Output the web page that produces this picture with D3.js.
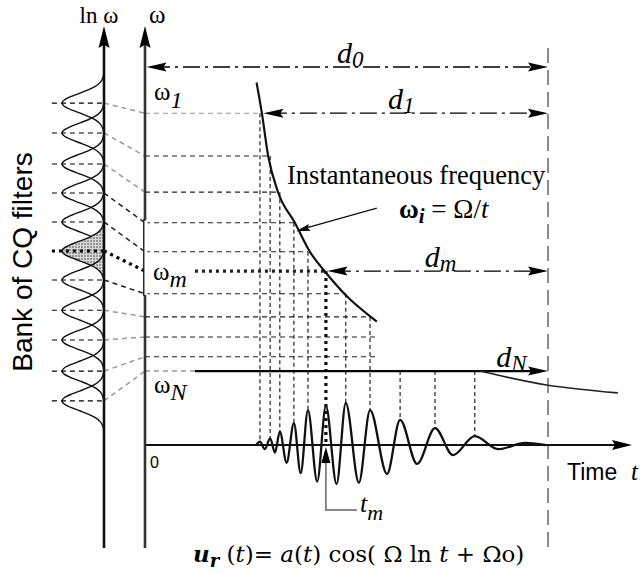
<!DOCTYPE html>
<html><head><meta charset="utf-8">
<script src="https://cdn.jsdelivr.net/npm/d3@7"></script>
<style>body{margin:0;background:#fff}</style>
</head><body>
<svg id="c" width="643" height="574"></svg>
<script>
// ---------- data ----------
const filterCenters = [81.4, 74.3, 66.9, 60.0, 53.1, 46.2, 39.3, 32.1, 25.0, 17.6, 10.5]; // ln ω units
const bankOmegas   = [79.0, 68.8, 60.2, 52.9, 46.0, 41.4, 36.0, 30.5, 25.7, 21.0, 17.6]; // ω units
const peakTimes    = [23.7, 25.8, 27.8, 30.7, 33.6, 37.3, 41.4, 46.4, 52.6, 59.8, 68.0];
const peakAmps     = [0.08, 0.16, 0.32, 0.52, 0.83, 0.93, 1.0, 0.83, 0.6, 0.40, 0.21];
const slantColors  = ["#999","#999","#999","#222","#222","#000","#222","#999","#999","#999","#999"];
const mIndex = 5;
const filterProfileOffset = [-7.5, -6, -5, -4, -3.2, -2.4, -1.6, -0.8, 0, 0.8, 1.6, 2.4, 3.2, 4, 5, 6, 7.5];
const filterProfileGain   = [0, 0.029, 0.085, 0.206, 0.364, 0.566, 0.777, 0.939, 1, 0.939, 0.777, 0.566, 0.364, 0.206, 0.085, 0.029, 0];
const curveT = [23.0, 24.1, 25.4, 27.4, 30.9, 34.0, 37.1, 41.2, 47.8];
const curveW = [86.3, 79.0, 68.8, 60.3, 52.9, 46.0, 41.3, 35.9, 29.4];
const tailT = [69.1, 82.8, 97.5];
const tailW = [17.6, 14.3, 12.4];
const waveT = [22.9, 23.7, 24.7, 25.8, 26.8, 27.8, 29.2, 30.7, 32.1, 33.6, 35.5, 37.3, 39.5, 41.4, 44.1, 46.4, 49.9, 52.6, 56.1, 59.8, 63.5, 68.0, 72.8, 78.4, 82.5];
const waveA = [0, 0.08, -0.1, 0.16, -0.18, 0.32, -0.42, 0.52, -0.67, 0.83, -0.87, 0.93, -0.93, 1.0, -0.9, 0.83, -0.69, 0.6, -0.45, 0.40, -0.24, 0.21, -0.1, 0.05, 0];
const dNames  = ["0", "1", "m", "N"];
const dOmega  = [90.0, 79.0, 41.4, 17.6];
const dStart  = [0, 24.1, 37.3, 10.3];
const dLabelT = [39.6, 50.1, 57.7, 72.4];
const dEnd = 83.1;
const curveEndT = 47.8;

// ---------- scales ----------
const x  = d3.scaleLinear().domain([0, 100]).range([145, 630]);
const yW = d3.scaleLinear().domain([0, 100]).range([445, 25]);
const yA = d3.scaleLinear().domain([-1, 1]).range([487, 403]);
const xF = d3.scaleLinear().domain([0, 1]).range([104, 62]);
const lnX = xF(0), wX = x(0);

const serif = "'Liberation Serif','Times New Roman',serif";
const wide  = "'DejaVu Serif',serif";
const sans  = "'Liberation Sans',Arial,sans-serif";

const svg = d3.select("#c");
svg.append("rect").attr("width", 643).attr("height", 574).attr("fill", "#fff");

const defs = svg.append("defs");
const pat = defs.append("pattern").attr("id", "stip").attr("width", 3).attr("height", 3)
  .attr("patternUnits", "userSpaceOnUse");
pat.append("rect").attr("width", 3).attr("height", 3).attr("fill", "#d8d8d8");
pat.append("circle").attr("cx", 1).attr("cy", 1).attr("r", 0.8).attr("fill", "#444");

function arrow(px, py, ang, len = 18, hw = 4.5, col = "#000") {
  const c = Math.cos(ang), s = Math.sin(ang);
  const bx = px - c * len, by = py - s * len;
  svg.append("path")
    .attr("d", `M${px},${py}L${bx - s * hw},${by + c * hw}L${bx + c * len * 0.15},${by + s * len * 0.15}L${bx + s * hw},${by - c * hw}Z`)
    .attr("fill", col);
}

// ---------- filters ----------
const fl = d3.line().x(d => xF(d[1])).y(d => yW(d[0])).curve(d3.curveMonotoneY);
filterCenters.forEach((c, k) => {
  const pts = filterProfileOffset.map((o, i) => [c + o, filterProfileGain[i]]);
  if (k === mIndex) {
    svg.append("path").attr("d", fl(pts) + "Z").attr("fill", "url(#stip)").attr("stroke", "none");
  }
  svg.append("path").attr("d", fl(pts)).attr("fill", "none").attr("stroke", "#111").attr("stroke-width", 1.4);
});
filterCenters.forEach((c, k) => {
  svg.append("line").attr("x1", xF(1.24)).attr("x2", lnX).attr("y1", yW(c)).attr("y2", yW(c))
    .attr("stroke", "#000").attr("stroke-width", k === mIndex ? 3 : 1.1)
    .attr("stroke-dasharray", k === mIndex ? "3,4" : "5,4");
});
filterCenters.forEach((c, k) => {
  svg.append("line").attr("x1", lnX).attr("x2", wX).attr("y1", yW(c)).attr("y2", yW(bankOmegas[k]))
    .attr("stroke", slantColors[k]).attr("stroke-width", k === mIndex ? 3.2 : 1.5)
    .attr("stroke-dasharray", k === mIndex ? "3,4" : "5,4");
});

// ---------- grid ----------
bankOmegas.forEach((w, k) => {
  if (k === 10) return;
  const end = k < 8 ? peakTimes[k] : curveEndT;
  const start = k === mIndex ? 10.3 : 0;
  svg.append("line").attr("x1", x(start)).attr("x2", x(end)).attr("y1", yW(w)).attr("y2", yW(w))
    .attr("stroke", k === 0 ? "#999" : "#222").attr("stroke-width", k === mIndex ? 3.2 : 1.1)
    .attr("stroke-dasharray", k === mIndex ? "3,4" : "5,4");
});
svg.append("line").attr("x1", x(0)).attr("x2", x(10.3)).attr("y1", yW(bankOmegas[10])).attr("y2", yW(bankOmegas[10]))
  .attr("stroke", "#999").attr("stroke-width", 1.5).attr("stroke-dasharray", "5,4");
peakTimes.forEach((t, k) => {
  const top = k < 8 ? bankOmegas[k] : bankOmegas[10];
  svg.append("line").attr("x1", x(t)).attr("x2", x(t)).attr("y1", yW(top))
    .attr("y2", k === mIndex ? yA(0) : yA(peakAmps[k]))
    .attr("stroke", "#111").attr("stroke-width", k === mIndex ? 3.2 : 1.1)
    .attr("stroke-dasharray", k === mIndex ? "3,4" : "4,3");
});

// ---------- d lines ----------
dNames.forEach((n, i) => {
  const yy = yW(dOmega[i]);
  const solid = n === "N";
  svg.append("line").attr("x1", x(dStart[i]) + (solid ? 0 : 8)).attr("x2", x(dEnd) - 8).attr("y1", yy).attr("y2", yy)
    .attr("stroke", "#000").attr("stroke-width", solid ? 2.2 : 1.3)
    .attr("stroke-dasharray", solid ? null : "17,5,3,5");
  arrow(x(dEnd), yy, 0, 20, 4.5);
  if (!solid) arrow(x(dStart[i]) + 1.5, yy, Math.PI, 20, 4.5);
  const lab = svg.append("text").attr("x", x(dLabelT[i])).attr("y", yy - 4)
    .attr("font-family", serif).attr("font-style", "italic").attr("font-size", 30);
  lab.append("tspan").text("d");
  lab.append("tspan").attr("dy", 4).attr("font-size", 23).text(n);
});

svg.append("line").attr("x1", x(dEnd)).attr("x2", x(dEnd)).attr("y1", 48).attr("y2", 548)
  .attr("stroke", "#666").attr("stroke-width", 1.5).attr("stroke-dasharray", "15,7");

// ---------- instantaneous frequency curve ----------
const cl = d3.line().x(d => x(d[0])).y(d => yW(d[1])).curve(d3.curveMonotoneX);
svg.append("path").attr("d", cl(curveT.map((t, i) => [t, curveW[i]])))
  .attr("fill", "none").attr("stroke", "#111").attr("stroke-width", 2.2);
svg.append("path").attr("d", d3.line().x(d => x(d[0])).y(d => yW(d[1])).curve(d3.curveNatural)(tailT.map((t, i) => [t, tailW[i]])))
  .attr("fill", "none").attr("stroke", "#222").attr("stroke-width", 1.6);

// ---------- waveform ----------
const baseY = yA(0);
svg.append("line").attr("x1", x(0)).attr("x2", x(100) - 10).attr("y1", baseY).attr("y2", baseY)
  .attr("stroke", "#111").attr("stroke-width", 2.2);
arrow(x(100) + 2, baseY, 0, 20, 5);
const wl = d3.line().x(d => x(d[0])).y(d => yA(d[1])).curve(d3.curveMonotoneX);
svg.append("path").attr("d", wl(waveT.map((t, i) => [t, waveA[i]])))
  .attr("fill", "none").attr("stroke", "#111").attr("stroke-width", 2.3);

const tm = peakTimes[mIndex];
svg.append("path").attr("d", `M${x(tm)},${baseY + 2}L${x(tm) - 4.5},${baseY + 18}L${x(tm) + 4.5},${baseY + 18}Z`).attr("fill", "#000");
svg.append("path").attr("d", `M${x(tm)},${baseY + 18}L${x(tm)},${yA(-1.55)}L${x(tm) + 31},${yA(-1.55)}`)
  .attr("fill", "none").attr("stroke", "#666").attr("stroke-width", 1.5);

// ---------- axes ----------
[lnX, wX].forEach((ax, i) => {
  svg.append("line").attr("x1", ax).attr("x2", ax).attr("y1", 548).attr("y2", 40)
    .attr("stroke", i === 0 ? "#111" : "#333").attr("stroke-width", 2.6);
  arrow(ax, 26, -Math.PI / 2, 22, 5.5);
});
svg.append("rect").attr("x", 144.4).attr("y", yW(53.6)).attr("width", 3).attr("height", yW(35.6) - yW(53.6)).attr("fill", "#fff");
svg.append("path").attr("d", `M146,${yW(53.6)}L143.6,${yW(53.6)}L143.6,${yW(35.6)}L146,${yW(35.6)}`)
  .attr("fill", "none").attr("stroke", "#222").attr("stroke-width", 1.1);

// ---------- texts ----------
function txt(tx, ty, s, size, fam, opts = {}) {
  const t = svg.append("text").attr("x", tx).attr("y", ty).attr("font-family", fam).attr("font-size", size).text(s);
  if (opts.italic) t.attr("font-style", "italic");
  if (opts.bold) t.attr("font-weight", "bold");
  if (opts.anchor) t.attr("text-anchor", opts.anchor);
  return t;
}
txt(99, 23, "ln ω", 23, serif, { anchor: "middle" });
txt(149, 23, "ω", 25, serif);

function omegaLab(tx, ty, sub, dy) {
  const t = svg.append("text").attr("x", tx).attr("y", ty).attr("font-family", serif).attr("font-size", 25);
  t.append("tspan").text("ω");
  t.append("tspan").attr("dy", dy).attr("font-style", "italic").attr("font-size", 24).text(sub);
}
omegaLab(154, 100, "1", 8);
omegaLab(153, 280, "m", 7);
omegaLab(154, 393, "N", 7);

txt(150, 468, "0", 16, sans);
txt(567, 480, "Time", 23, sans);
txt(631, 480, "t", 25, serif, { italic: true });

const tml = svg.append("text").attr("x", 360).attr("y", 512).attr("font-family", serif).attr("font-style", "italic").attr("font-size", 26);
tml.append("tspan").text("t");
tml.append("tspan").attr("dy", 8).attr("font-size", 22).text("m");

svg.append("text").attr("transform", "translate(32,262) rotate(-90)").attr("text-anchor", "middle")
  .attr("font-family", sans).attr("font-size", 28).text("Bank of CQ filters");

txt(287, 184, "Instantaneous frequency", 26.5, serif);
const wi = svg.append("text").attr("x", 399).attr("y", 218).attr("font-family", serif).attr("font-size", 27);
wi.append("tspan").attr("font-weight", "bold").text("ω");
wi.append("tspan").attr("dy", 5).attr("font-style", "italic").attr("font-weight", "bold").attr("font-size", 21).text("i");
wi.append("tspan").attr("dy", -5).text(" = Ω/");
wi.append("tspan").attr("font-style", "italic").text("t");
svg.append("line").attr("x1", x(47.8)).attr("y1", yW(56.4)).attr("x2", x(31.8)).attr("y2", yW(51.2))
  .attr("stroke", "#111").attr("stroke-width", 1.3);
arrow(x(31.2), yW(50.9), Math.atan2(yW(50.9) - yW(56.4), x(31.2) - x(47.8)), 14, 3.5);

// formula
const f = svg.append("text").attr("x", 193).attr("y", 562).attr("font-family", wide).attr("font-size", 23);
f.append("tspan").attr("font-style", "italic").attr("font-weight", "bold").text("u");
f.append("tspan").attr("dy", 5).attr("font-style", "italic").attr("font-weight", "bold").attr("font-size", 18).text("r");
f.append("tspan").attr("dy", -5).text(" (");
f.append("tspan").attr("font-style", "italic").text("t");
f.append("tspan").text(")= ");
f.append("tspan").attr("font-style", "italic").text("a");
f.append("tspan").text("(");
f.append("tspan").attr("font-style", "italic").text("t");
f.append("tspan").text(") cos( Ω ln  ");
f.append("tspan").attr("font-style", "italic").text("t");
f.append("tspan").text(" + Ωo)");
</script>
</body></html>
